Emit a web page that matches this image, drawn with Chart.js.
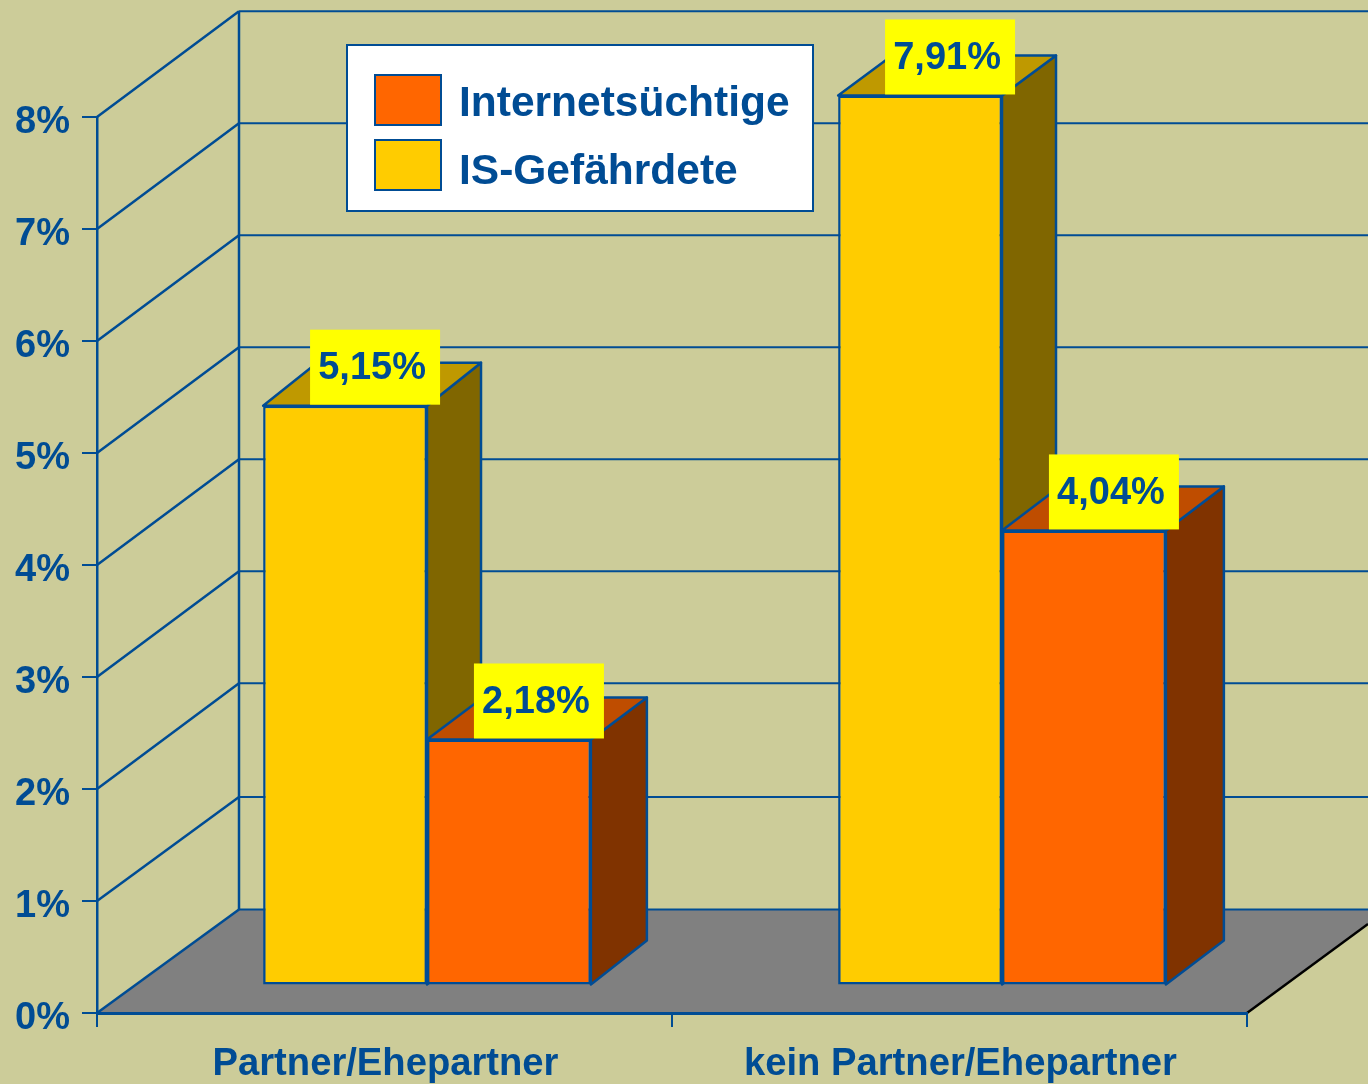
<!DOCTYPE html>
<html>
<head>
<meta charset="utf-8">
<style>html,body{margin:0;padding:0;background:#cccc99;overflow:hidden}canvas{display:block}</style>
<script src="https://cdn.jsdelivr.net/npm/chart.js@4"></script>
</head>
<body>
<canvas id="c" width="1368" height="1084"></canvas>
<script>
const categories = ['Partner/Ehepartner', 'kein Partner/Ehepartner'];
const seriesGefaehrdetName = 'IS-Gefährdete';
const seriesGefaehrdet = [5.15, 7.91];
const seriesSuechtigeName = 'Internetsüchtige';
const seriesSuechtige = [2.18, 4.04];
const valueTicks = [0, 1, 2, 3, 4, 5, 6, 7, 8];

const BLUE = '#004c94', BG = '#cccc99', FONT = '"Liberation Sans", Arial, sans-serif';
const barShift = {x: 42.5, y: -28.5};
const barDepths = [[[54, -43], [54, -40]], [[56, -42], [58, -44]]];
const barFootDepth = -44;
const wallDepthX = 142;
const wallDepthY = (v) => (v === 0 ? -103.5 : v === 1 ? -104 : -105.7);

function line(ctx, x1, y1, x2, y2, color, w) {
  ctx.strokeStyle = color; ctx.lineWidth = w;
  ctx.beginPath(); ctx.moveTo(x1, y1); ctx.lineTo(x2, y2); ctx.stroke();
}
function poly(ctx, pts, fill) {
  ctx.fillStyle = fill; ctx.strokeStyle = BLUE; ctx.lineWidth = 2.5; ctx.lineJoin = 'round';
  ctx.beginPath();
  pts.forEach((p, i) => i ? ctx.lineTo(p[0], p[1]) : ctx.moveTo(p[0], p[1]));
  ctx.closePath(); ctx.fill(); ctx.stroke();
}

const scene = {
  id: 'scene',
  beforeDraw(chart) {
    const {ctx, chartArea: a, scales: {y}} = chart, W = chart.width;
    ctx.save();
    ctx.fillStyle = BG; ctx.fillRect(0, 0, W, chart.height);
    const y0 = y.getPixelForValue(0);
    const backX = a.left + wallDepthX, floorBack = y0 + wallDepthY(0);
    // floor
    const rightY = y0 - (W - a.right) * 0.735;
    ctx.fillStyle = '#808080';
    ctx.beginPath(); ctx.moveTo(a.left, y0); ctx.lineTo(backX, floorBack); ctx.lineTo(W, floorBack);
    ctx.lineTo(W, rightY); ctx.lineTo(a.right, y0); ctx.closePath(); ctx.fill();
    line(ctx, a.right, y0, W, rightY, '#000', 2.5);
    // walls
    valueTicks.forEach((v) => {
      const py = y.getPixelForValue(v);
      const by = py + wallDepthY(v);
      line(ctx, a.left, py, backX, by, BLUE, 2.5);
      line(ctx, backX, by, W, by, BLUE, 2);
    });
    line(ctx, backX, y.getPixelForValue(8) + wallDepthY(8), backX, floorBack, BLUE, 2.5);
    ctx.restore();
  },
  beforeDatasetsDraw(chart) {
    const {ctx} = chart;
    ctx.save();
    const shades = [{top: '#bf9900', side: '#806600'}, {top: '#bf4d00', side: '#803300'}];
    [0, 1].forEach((di) => {
      chart.getDatasetMeta(di).data.forEach((bar, i) => {
        const l = bar.x - bar.width / 2 + barShift.x, r = bar.x + bar.width / 2 + barShift.x;
        const t = bar.y + barShift.y, b = bar.base + barShift.y;
        const [dx, dy] = barDepths[di][i];
        poly(ctx, [[r, t], [r + dx, t + dy], [r + dx, b + barFootDepth], [r, b]], shades[di].side);
        poly(ctx, [[l, t], [l + dx, t + dy], [r + dx, t + dy], [r, t]], shades[di].top);
      });
    });
    ctx.restore();
    ctx.save();
    ctx.translate(barShift.x, barShift.y);
  },
  afterDatasetsDraw(chart) {
    const {ctx} = chart;
    ctx.restore();
    ctx.save();
    ctx.font = 'bold 38px ' + FONT;
    ctx.textAlign = 'center'; ctx.textBaseline = 'middle';
    [seriesGefaehrdet, seriesSuechtige].forEach((vals, di) => {
      chart.getDatasetMeta(di).data.forEach((bar, i) => {
        const cx = bar.x + barShift.x + 30, bottom = bar.y + barShift.y;
        ctx.fillStyle = '#ffff00';
        ctx.fillRect(cx - 65, bottom - 76, 130, 75);
        ctx.fillStyle = BLUE;
        ctx.fillText(vals[i].toFixed(2).replace('.', ',') + '%', cx - 3, bottom - 37);
      });
    });
    // legend box
    ctx.fillStyle = '#fff'; ctx.strokeStyle = BLUE; ctx.lineWidth = 2;
    ctx.fillRect(347, 45, 466, 166); ctx.strokeRect(347, 45, 466, 166);
    const items = [[seriesSuechtigeName, '#ff6600', 75, 104], [seriesGefaehrdetName, '#ffcc00', 140, 172]];
    ctx.textAlign = 'left';
    ctx.font = 'bold 42.5px ' + FONT;
    items.forEach(([name, col, top, textY]) => {
      ctx.fillStyle = col;
      ctx.fillRect(375, top, 66, 50); ctx.strokeRect(375, top, 66, 50);
      ctx.fillStyle = BLUE;
      ctx.fillText(name, 459, textY);
    });
    ctx.restore();
  }
};

new Chart(document.getElementById('c'), {
  type: 'bar',
  data: {
    labels: categories,
    datasets: [
      {label: seriesGefaehrdetName, data: seriesGefaehrdet, backgroundColor: '#ffcc00', borderColor: BLUE, borderWidth: 2.5, borderSkipped: false, yAxisID: 'yBars', clip: false},
      {label: seriesSuechtigeName, data: seriesSuechtige, backgroundColor: '#ff6600', borderColor: BLUE, borderWidth: 2.5, borderSkipped: false, yAxisID: 'yBars', clip: false}
    ]
  },
  options: {
    responsive: false,
    animation: false,
    events: [],
    layout: {padding: {top: 117, right: 121, left: 0, bottom: 0}},
    categoryPercentage: 0.57,
    barPercentage: 1,
    plugins: {legend: {display: false}, tooltip: {enabled: false}, title: {display: false}},
    scales: {
      x: {
        afterFit(s) { s.height = 71; },
        grid: {drawOnChartArea: false, color: BLUE, tickColor: BLUE, tickLength: 14, tickWidth: 2, lineWidth: 2},
        border: {color: BLUE, width: 3},
        ticks: {color: BLUE, font: {family: FONT, size: 38.2, weight: 'bold'}, padding: 15, maxRotation: 0, labelOffset: 1}
      },
      y: {
        min: 0, max: 8,
        afterFit(s) { s.width = 97; },
        afterBuildTicks(s) { s.ticks = valueTicks.map((v) => ({value: v})); },
        grid: {drawOnChartArea: false, color: BLUE, tickColor: BLUE, tickLength: 15, tickWidth: 2, lineWidth: 2},
        border: {color: BLUE, width: 2.5},
        ticks: {color: BLUE, font: {family: FONT, size: 38, weight: 'bold', lineHeight: '12px'}, padding: 12, callback: (v) => ['', v + '%']}
      },
      yBars: {min: 0, max: 7.972, display: false}
    }
  },
  plugins: [scene]
});
</script>
</body>
</html>
